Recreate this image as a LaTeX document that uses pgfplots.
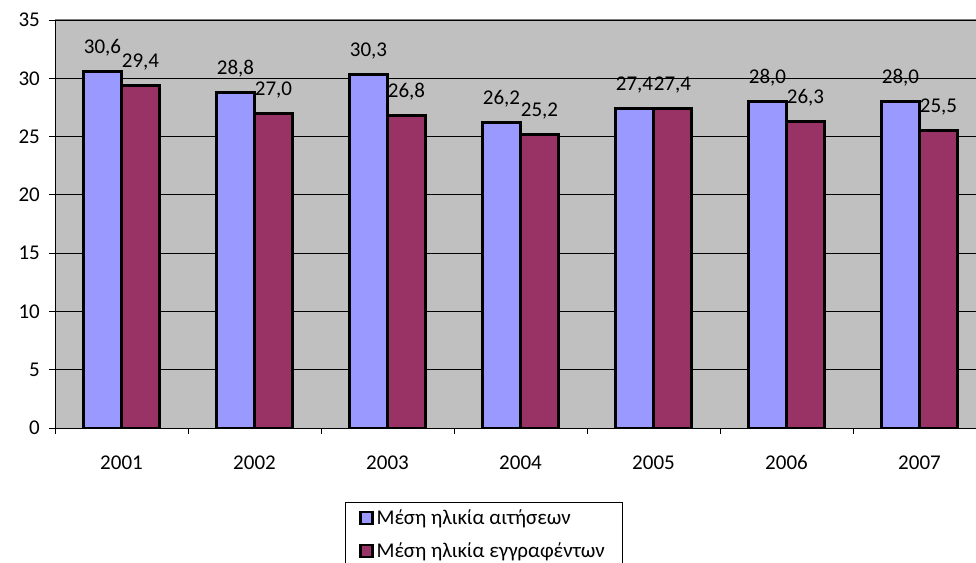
\documentclass[border=0pt]{standalone}
\usepackage{fontspec}
\setmainfont{Carlito}
\usepackage{pgfplots}
\pgfplotsset{compat=1.18}
\definecolor{barblue}{HTML}{9999FF}
\definecolor{barred}{HTML}{993366}
\definecolor{plotgray}{HTML}{C0C0C0}
\begin{document}
\fontsize{21}{25}\selectfont
\begin{tikzpicture}
\path[use as bounding box] (0,0) rectangle (976pt,562pt);
\clip (0,0) rectangle (976pt,562pt);
\begin{axis}[
 at={(55pt,134pt)}, anchor=south west,
 width=931pt, height=408pt, scale only axis,
 ybar=0pt, bar width=38pt,
 xmin=-0.5, xmax=6.5, ymin=0, ymax=35,
 ytick={0,5,...,35},
 xtick={0,1,2,3,4,5,6},
 xticklabels={2001,2002,2003,2004,2005,2006,2007},
 major x tick style={draw=none},
 minor xtick={-0.5,0.5,1.5,2.5,3.5,4.5,5.5,6.5},
 minor tick length=6pt, major tick length=6pt, tick align=outside,
 tick style={black, line width=0.8pt},
 ymajorgrids, grid style={black, line width=0.9pt},
 axis background/.style={fill=plotgray},
 axis x line*=bottom, axis y line*=left,
 axis line style={black, line width=0.9pt, -},
 /pgf/number format/assume math mode=true,
 tick label style={font=\fontsize{21}{25}\selectfont},
 xticklabel style={text height=13pt, text depth=0pt, yshift=-15pt},
 yticklabel style={xshift=-2pt},
 nodes near coords,
 every node near coord/.append style={font=\fontsize{21}{25}\selectfont, black,
   /pgf/number format/fixed, /pgf/number format/fixed zerofill,
   /pgf/number format/precision=1, /pgf/number format/use comma,
   inner sep=0pt, yshift=14pt},
 legend style={at={(0.4603,-0.1814)}, anchor=north, draw=black, line width=0.6pt,
   fill=white, font=\fontsize{21}{25}\selectfont, row sep=9pt,
   inner xsep=14pt, inner ysep=4pt, nodes={inner sep=3pt}},
 legend cell align=left,
 legend image code/.code={\draw[#1, line width=2.4pt] (-2pt,-6pt) rectangle (10pt,6pt);},
]
\addplot[fill=barblue, draw=black, line width=2.6pt] coordinates {
 (0,30.6) (1,28.8) (2,30.3) (3,26.2) (4,27.4) (5,28.0) (6,28.0)};
\addplot[fill=barred, draw=black, line width=2.6pt] coordinates {
 (0,29.4) (1,27.0) (2,26.8) (3,25.2) (4,27.4) (5,26.3) (6,25.5)};
\legend{Μέση ηλικία αιτήσεων, Μέση ηλικία εγγραφέντων}
\draw[gray, line width=1pt] (rel axis cs:0,1) -- (rel axis cs:1,1);
\end{axis}
\end{tikzpicture}
\end{document}
